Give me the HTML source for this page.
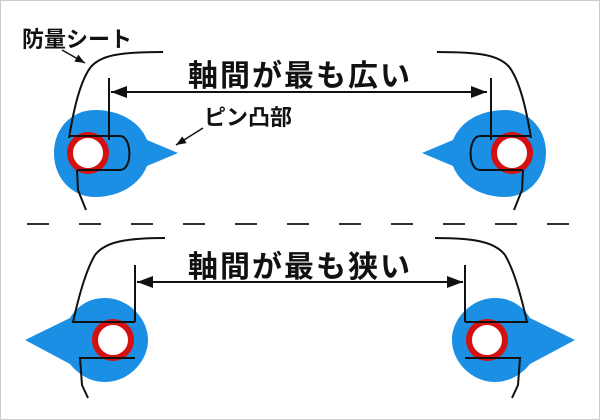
<!DOCTYPE html>
<html><head><meta charset="utf-8"><style>
html,body{margin:0;padding:0;background:#fff;}
svg{display:block}
text{font-family:"Liberation Sans","Noto Sans CJK JP",sans-serif;fill:#111}
</style></head><body>
<svg width="600" height="420" viewBox="0 0 600 420" xmlns="http://www.w3.org/2000/svg">
<rect x="0.5" y="0.5" width="599" height="419" fill="#fff" stroke="#ccc"/>
<defs>
<marker id="ah" markerWidth="10" markerHeight="8" refX="10" refY="4" orient="auto" markerUnits="userSpaceOnUse">
<path d="M0,0 L10,4 L0,8 Z" fill="#111"/></marker>
<marker id="ah2" markerWidth="16" markerHeight="12" refX="16" refY="6" orient="auto" markerUnits="userSpaceOnUse">
<path d="M0,0 L16,6 L0,12 Z" fill="#111"/></marker>
<g id="top">
<path d="M95,110 C120,110 140,122 147,140 L178,153 L147,166 C140,184 120,197 95,197 C72,197 54,178 54,153 C54,128 72,110 95,110 Z" fill="#1a8fe3"/>
<circle cx="88" cy="153" r="18" fill="#fff" stroke="#d41010" stroke-width="6"/>
<path d="M163,52 C120,52 100,55 90,68 C78,85 72,120 69,138" fill="none" stroke="#111" stroke-width="2"/>
<path d="M69,136 L120,136 C132,136 133,170 120,170 L77,170" fill="none" stroke="#111" stroke-width="2"/>
<path d="M77,170 L78,190 L86,210" fill="none" stroke="#111" stroke-width="2"/>
<line x1="109" y1="78" x2="109" y2="140" stroke="#111" stroke-width="2"/>
</g>
<g id="bot">
<path d="M105,298 C128,298 148,318 148,340 C148,362 128,382 105,382 C90,382 78,374 70,364 L25,340 L70,318 C78,305 90,298 105,298 Z" fill="#1a8fe3"/>
<circle cx="113" cy="340" r="18" fill="#fff" stroke="#d41010" stroke-width="6"/>
<path d="M165,238 C125,238 105,242 95,255 C85,272 78,300 73,322 L135,322" fill="none" stroke="#111" stroke-width="2"/>
<path d="M135,358 L80,358 L82,385 L88,398" fill="none" stroke="#111" stroke-width="2"/>
<line x1="135" y1="265" x2="135" y2="322" stroke="#111" stroke-width="2"/>
</g>
</defs>
<use href="#top"/>
<use href="#top" transform="translate(600,0) scale(-1,1)"/>
<use href="#bot"/>
<use href="#bot" transform="translate(600,0) scale(-1,1)"/>
<line x1="300" y1="92" x2="111" y2="92" stroke="#111" stroke-width="2" marker-end="url(#ah2)"/>
<line x1="300" y1="92" x2="487" y2="92" stroke="#111" stroke-width="2" marker-end="url(#ah2)"/>
<line x1="300" y1="282" x2="137" y2="282" stroke="#111" stroke-width="2" marker-end="url(#ah2)"/>
<line x1="300" y1="282" x2="463" y2="282" stroke="#111" stroke-width="2" marker-end="url(#ah2)"/>
<line x1="27" y1="224" x2="580" y2="224" stroke="#333" stroke-width="2" stroke-dasharray="22 30"/>
<text x="300" y="86" font-size="30" font-weight="bold" text-anchor="middle" letter-spacing="2">軸間が最も広い</text>
<text x="300" y="277" font-size="30" font-weight="bold" text-anchor="middle" letter-spacing="2">軸間が最も狭い</text>
<text x="204" y="125" font-size="22" font-weight="bold">ピン凸部</text>
<text x="22" y="47" font-size="22" font-weight="bold">防量シート</text>
<line x1="62" y1="50" x2="85" y2="63" stroke="#111" stroke-width="1.5" marker-end="url(#ah)"/>
<line x1="203" y1="128" x2="176" y2="145" stroke="#111" stroke-width="1.5" marker-end="url(#ah)"/>
</svg>
</body></html>
